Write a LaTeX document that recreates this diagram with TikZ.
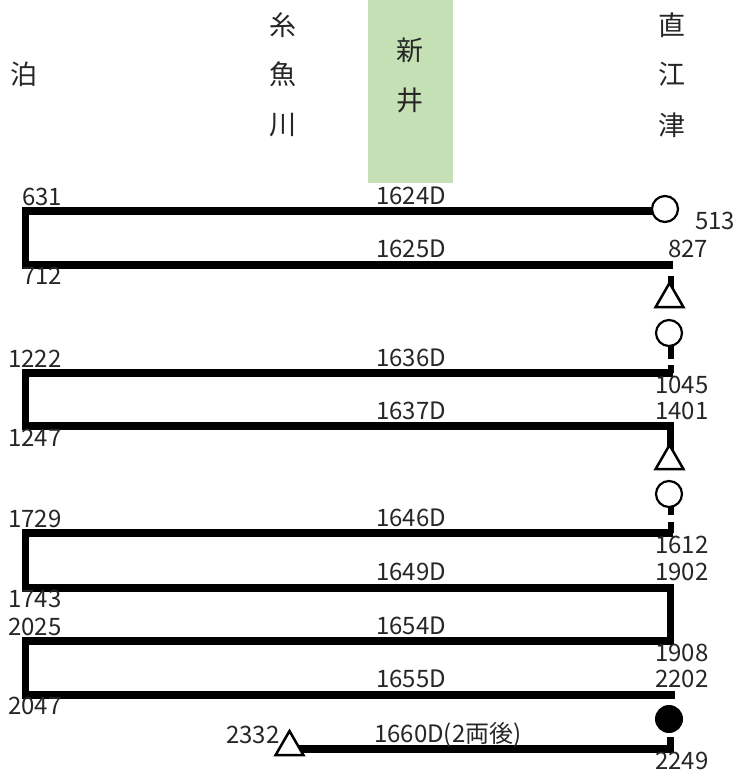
\documentclass[tikz,border=0pt]{standalone}
\usepackage{fontspec}
\setmainfont{Noto Sans CJK JP}
\usetikzlibrary{shapes.geometric}
\definecolor{bandgreen}{HTML}{C5E0B4}
\definecolor{txt}{HTML}{262626}
\begin{document}
\begin{tikzpicture}[x=1pt,y=-1pt,
  track/.style={line width=7.5pt, line join=miter, line cap=butt},
  stem/.style={line width=6pt, line cap=butt},
  lbl/.style={anchor=base west, inner sep=0pt, text=txt, font=\fontsize{24}{24}\selectfont},
  stn/.style={inner sep=0pt, text=txt, font=\fontsize{27}{27}\selectfont},
  ocirc/.style={circle, draw, line width=2.2pt, minimum size=26pt, inner sep=0pt, fill=white},
  fcirc/.style={circle, fill=black, minimum size=28pt, inner sep=0pt},
  tri/.style={regular polygon, regular polygon sides=3, draw, line width=2.5pt, minimum size=32pt, inner sep=0pt, fill=white}]
\useasboundingbox (0,0) rectangle (736,778);
% green band
\node[fill=bandgreen, minimum width=85pt, minimum height=183pt, anchor=north west, inner sep=0pt, outer sep=0pt] (band) at (368,0) {};
% station names
\node[stn] (tomari) at (24,74.5) {泊};
\node[stn] (itoi1) at (283,25) {糸};
\node[stn] (itoi2) at (283,74) {魚};
\node[stn] (itoi3) at (283,125) {川};
\node[stn] (arai1) at (410,50) {新};
\node[stn] (arai2) at (410,100) {井};
\node[stn] (nao1) at (672,25) {直};
\node[stn] (nao2) at (672,74) {江};
\node[stn] (nao3) at (672,125) {津};
% loop 1
\coordinate (a1) at (665,211);
\coordinate (a2) at (25.5,211);
\coordinate (a3) at (25.5,265);
\coordinate (a4) at (673,265);
\draw[track] (a1) -- (a2) -- (a3) -- (a4);
\node[ocirc] (c1) at (665,209) {};
\coordinate (s1a) at (670.5,276);
\coordinate (s1b) at (670.5,292);
\draw[stem] (s1a) -- (s1b);
\node[tri] (t1) at (669.5,299) {};
% circle 2
\node[ocirc] (c2) at (669,333) {};
\coordinate (s2a) at (670.5,346);
\coordinate (s2b) at (670.5,359);
\coordinate (n2a) at (670.5,365);
\coordinate (n2b) at (670.5,373);
\draw[stem] (s2a) -- (s2b);
\draw[stem] (n2a) -- (n2b);
% loop 2
\coordinate (b1) at (673,373);
\coordinate (b2) at (25.5,373);
\coordinate (b3) at (25.5,426);
\coordinate (b4) at (670.5,426);
\coordinate (b5) at (670.5,452);
\draw[track] (b1) -- (b2) -- (b3) -- (b4) -- (b5);
\node[tri] (t2) at (669.5,461) {};
% circle 3
\node[ocirc] (c3) at (669,494) {};
\coordinate (s3a) at (670.5,507);
\coordinate (s3b) at (670.5,515);
\coordinate (n3a) at (670.5,522);
\coordinate (n3b) at (670.5,533);
\draw[stem] (s3a) -- (s3b);
\draw[stem] (n3a) -- (n3b);
% loops 3 and 4
\coordinate (d1) at (673,533);
\coordinate (d2) at (25.5,533);
\coordinate (d3) at (25.5,588);
\coordinate (d4) at (670.5,588);
\coordinate (d5) at (670.5,641);
\coordinate (d6) at (25.5,641);
\coordinate (d7) at (25.5,695);
\coordinate (d8) at (675,695);
\draw[track] (d1) -- (d2) -- (d3) -- (d4) -- (d5) -- (d6) -- (d7) -- (d8);
% last run
\node[fcirc] (f1) at (669,719) {};
\coordinate (e1) at (670.5,737);
\coordinate (e2) at (670.5,749);
\coordinate (e3) at (290,749);
\draw[track] (e1) -- (e2) -- (e3);
\node[tri] (t3) at (289.5,747) {};
% labels loop 1
\node[lbl] (l631) at (22,205) {631};
\node[lbl] (l1624) at (376,204) {1624D};
\node[lbl] (l513) at (695,229) {513};
\node[lbl] (l1625) at (376,257) {1625D};
\node[lbl] (l827) at (668,257) {827};
\node[lbl] (l712) at (22,284) {712};
% labels loop 2
\node[lbl] (l1222) at (8,367) {1222};
\node[lbl] (l1636) at (376,366) {1636D};
\node[lbl] (l1045) at (655,393) {1045};
\node[lbl] (l1637) at (376,419) {1637D};
\node[lbl] (l1401) at (655,419) {1401};
\node[lbl] (l1247) at (8,446) {1247};
% labels loop 3
\node[lbl] (l1729) at (8,527) {1729};
\node[lbl] (l1646) at (376,526) {1646D};
\node[lbl] (l1612) at (655,553) {1612};
\node[lbl] (l1649) at (376,580) {1649D};
\node[lbl] (l1902) at (655,580) {1902};
\node[lbl] (l1743) at (8,607) {1743};
% labels loop 4
\node[lbl] (l2025) at (8,635) {2025};
\node[lbl] (l1654) at (376,634) {1654D};
\node[lbl] (l1908) at (655,661) {1908};
\node[lbl] (l1655) at (376,687) {1655D};
\node[lbl] (l2202) at (655,687) {2202};
\node[lbl] (l2047) at (8,714) {2047};
% labels last run
\node[lbl] (l2332) at (226,743) {2332};
\node[lbl] (l1660) at (374,742) {1660D(2両後)};
\node[lbl] (l2249) at (655,769) {2249};
\end{tikzpicture}
\end{document}
